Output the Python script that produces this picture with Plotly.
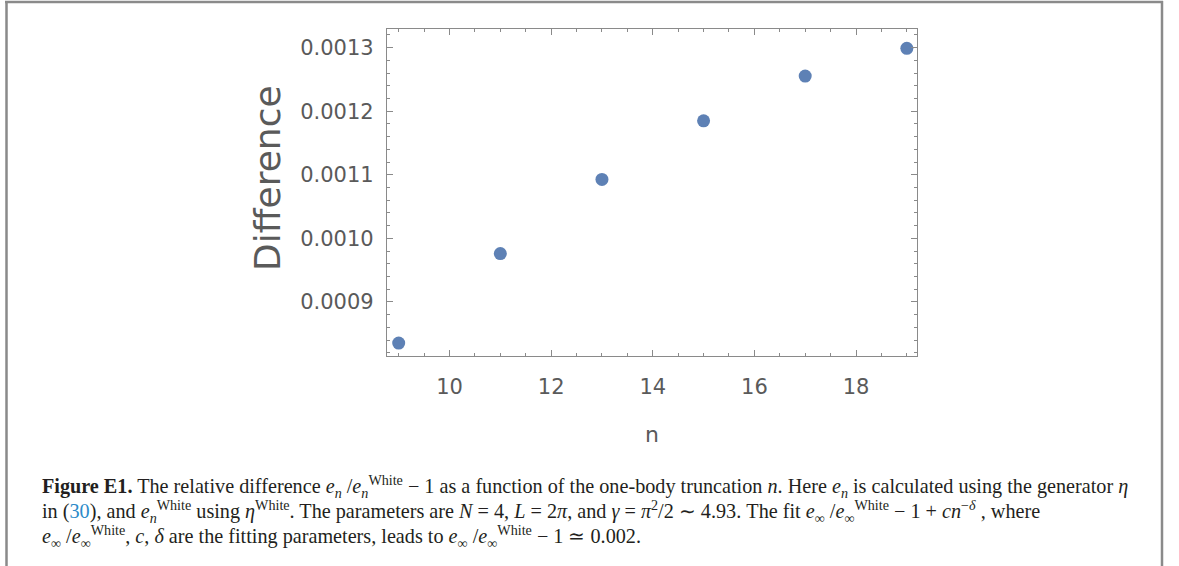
import plotly.graph_objects as go

# ---- data ----
n_values = [9, 11, 13, 15, 17, 19]
difference = [0.0008354, 0.0009762, 0.0010928, 0.0011850, 0.0012554, 0.0012990]

x_label = "n"
y_label = "Difference"

caption_lines = [
    "<b>Figure E1.</b> The relative difference <i>e<sub>n</sub></i> /<i>e<sub>n</sub></i><sup>White</sup> − 1 as a function of the one-body truncation <i>n</i>. Here <i>e<sub>n</sub></i> is calculated using the generator <i>η</i>",
    "in (<span style='color:#2e8bc9'>30</span>), and <i>e<sub>n</sub></i><sup>White</sup> using <i>η</i><sup>White</sup>. The parameters are <i>N</i> = 4, <i>L</i> = 2<i>π</i>, and <i>γ</i> = <i>π</i><sup>2</sup>/2 ∼ 4.93. The fit <i>e</i><sub>∞</sub> /<i>e</i><sub>∞</sub><sup>White</sup> − 1 + <i>cn</i><sup>−<i>δ</i></sup> , where",
    "<i>e</i><sub>∞</sub> /<i>e</i><sub>∞</sub><sup>White</sup>, <i>c</i>, <i>δ</i> are the fitting parameters, leads to <i>e</i><sub>∞</sub> /<i>e</i><sub>∞</sub><sup>White</sup> − 1 ≃ 0.002.",
]

# ---- layout geometry (target screen pixels) ----
W, H = 1179, 566
PL, PR, PT, PB = 387, 917, 29, 356
pw, ph = PR - PL, PB - PT


def px(x):
    return (x - PL) / pw


def py(y):
    return (PB - y) / ph


fig = go.Figure()
fig.add_trace(go.Scatter(
    x=n_values, y=difference, mode="markers",
    marker=dict(size=13, color="#5E81B5", line=dict(width=0)),
    showlegend=False,
))

frame_col = "#8a8a8a"
tick_font = dict(family="DejaVu Sans", size=21, color="#5a5a5a")

fig.update_xaxes(
    range=[8.77, 19.2], tick0=0, dtick=2,
    ticks="inside", ticklen=6, tickwidth=1, tickcolor=frame_col,
    minor=dict(dtick=0.5, tick0=0, ticks="inside", ticklen=3, tickcolor=frame_col),
    showline=True, linecolor=frame_col, linewidth=1.3, mirror="allticks",
    showgrid=False, zeroline=False,
    tickfont=tick_font, ticklabelstandoff=12,
    title=dict(text=x_label, font=dict(family="DejaVu Sans", size=22, color="#5a5a5a"), standoff=28),
)
fig.update_yaxes(
    range=[0.000815, 0.0013294], tick0=0, dtick=0.0001, tickformat=".4f",
    ticks="inside", ticklen=6, tickwidth=1, tickcolor=frame_col,
    minor=dict(dtick=0.00002, tick0=0, ticks="inside", ticklen=3, tickcolor=frame_col),
    showline=True, linecolor=frame_col, linewidth=1.3, mirror="allticks",
    showgrid=False, zeroline=False,
    tickfont=tick_font, ticklabelstandoff=8,
)

# y title as annotation (positioned like the reference)
fig.add_annotation(
    text=y_label, xref="paper", yref="paper", x=px(267), y=py(178),
    textangle=-90, showarrow=False, xanchor="center", yanchor="middle",
    font=dict(family="DejaVu Sans", size=36, color="#5a5a5a"),
)

# caption
for i, line in enumerate(caption_lines):
    fig.add_annotation(
        text=line, xref="paper", yref="paper", x=px(40), y=py(487 + 24.5 * i),
        xanchor="left", yanchor="middle", showarrow=False, align="left",
        font=dict(family="Liberation Serif", size=20.2, color="#231f20"),
    )

# outer border (left, top, right)
border = dict(color="#8a8a8a", width=2.5)
fig.add_shape(type="line", xref="paper", yref="paper", x0=px(6.5), x1=px(6.5), y0=py(1), y1=py(H + 5), line=border)
fig.add_shape(type="line", xref="paper", yref="paper", x0=px(5), x1=px(1163), y0=py(2), y1=py(2), line=border)
fig.add_shape(type="line", xref="paper", yref="paper", x0=px(1162), x1=px(1162), y0=py(1), y1=py(H + 5), line=border)

fig.update_layout(
    width=W, height=H,
    margin=dict(l=PL, r=W - PR, t=PT, b=H - PB, autoexpand=False),
    plot_bgcolor="white", paper_bgcolor="white",
)

fig.write_html("out.html", config={"displayModeBar": False},
               post_script="document.body.style.margin='0';")
